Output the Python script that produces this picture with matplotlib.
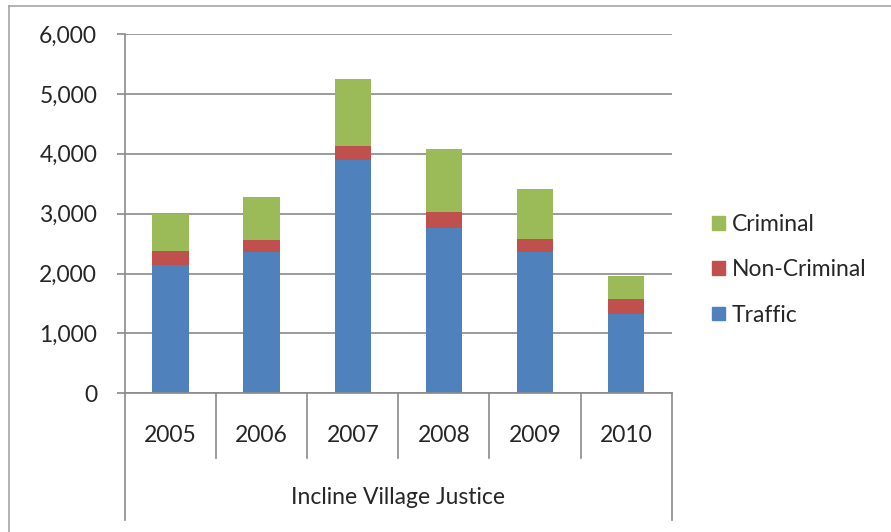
import matplotlib
matplotlib.use("Agg")
import matplotlib.pyplot as plt
from matplotlib.patches import Patch
from matplotlib.lines import Line2D
from matplotlib.ticker import FuncFormatter, MultipleLocator

plt.rcParams['font.family'] = ['Lato', 'DejaVu Sans']

years = ["2005", "2006", "2007", "2008", "2009", "2010"]
traffic = [2137, 2354, 3895, 2765, 2354, 1324]
non_criminal = [244, 205, 234, 267, 222, 245]
criminal = [607, 723, 1113, 1052, 835, 394]
group_label = "Incline Village Justice"

c_traffic = "#4F81BD"
c_noncrim = "#C0504D"
c_crim = "#9BBB59"
grid_c = "#8a8a8a"
text_c = "#262626"
fs = 16.5

W, H = 891, 532
fig = plt.figure(figsize=(W / 100, H / 100), dpi=100)
fig.patch.set_facecolor("white")

# plot area in pixel coordinates
L, R, T, B = 125, 671.7, 34, 393.3
ax = fig.add_axes([L / W, (H - B) / H, (R - L) / W, (B - T) / H])

x = list(range(len(years)))
bw = 0.4
ax.bar(x, traffic, width=bw, color=c_traffic, zorder=3)
bottom2 = [t for t in traffic]
ax.bar(x, non_criminal, width=bw, bottom=bottom2, color=c_noncrim, zorder=3)
bottom3 = [t + n for t, n in zip(traffic, non_criminal)]
ax.bar(x, criminal, width=bw, bottom=bottom3, color=c_crim, zorder=3)

ax.set_xlim(-0.5, len(years) - 0.5)
ax.set_ylim(0, 6000)
ax.yaxis.set_major_locator(MultipleLocator(1000))
ax.yaxis.set_major_formatter(FuncFormatter(lambda v, p: f"{int(v):,}"))
ax.grid(axis="y", color=grid_c, linewidth=1.2, zorder=0)
ax.set_axisbelow(True)

for s in ["top", "right", "bottom"]:
    ax.spines[s].set_visible(False)
ax.spines["left"].set_color(grid_c)
ax.spines["left"].set_linewidth(1.2)
ax.tick_params(axis="y", length=6, width=1.2, color=grid_c, labelsize=fs,
               labelcolor=text_c, pad=14)
ax.set_xticks([])

# baseline at zero
ax.axhline(0, color=grid_c, linewidth=1.2, zorder=4, clip_on=False)

# two-level category axis
ph = B - T
def ay(py):
    return -(py - B) / ph

tr = ax.get_xaxis_transform()
for i in range(1, len(years)):
    ax.add_line(Line2D([i - 0.5, i - 0.5], [0, ay(457.7)], transform=tr,
                       color=grid_c, linewidth=1.2, clip_on=False))
for xe in (-0.5, len(years) - 0.5):
    ax.add_line(Line2D([xe, xe], [0, ay(520)], transform=tr,
                       color=grid_c, linewidth=1.2, clip_on=False))
for i, yr in enumerate(years):
    ax.text(i, ay(435), yr, transform=tr, ha="center", va="center",
            fontsize=fs, color=text_c)
ax.text((len(years) - 1) / 2, ay(498), group_label, transform=tr,
        ha="center", va="center", fontsize=fs, color=text_c)

# outer chart border (left and top edges)
fig.add_artist(Line2D([9 / W, 9 / W], [0, (H - 6) / H], transform=fig.transFigure,
                      color="#a6a6a6", linewidth=1.2))
fig.add_artist(Line2D([9 / W, 1], [(H - 6) / H, (H - 6) / H], transform=fig.transFigure,
                      color="#a6a6a6", linewidth=1.2))

handles = [Patch(color=c_crim), Patch(color=c_noncrim), Patch(color=c_traffic)]
labels = ["Criminal", "Non-Criminal", "Traffic"]
fig.legend(handles, labels, loc="center left",
           bbox_to_anchor=(712 / W, (H - 270) / H), frameon=False,
           fontsize=fs, handlelength=0.55, handleheight=0.55, handletextpad=0.3,
           labelspacing=1.05, borderpad=0, borderaxespad=0, labelcolor=text_c)

fig.savefig("out.png", dpi=100, facecolor="white")
